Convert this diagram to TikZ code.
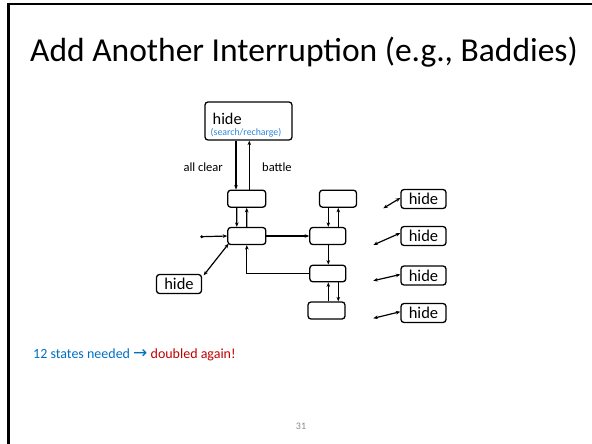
\documentclass[tikz,border=0pt]{standalone}
\usepackage{fontspec}
\setmainfont{Carlito}
\newfontfamily\symfont{DejaVu Sans}
\usetikzlibrary{arrows.meta,calc}
\definecolor{noteblue}{HTML}{0070C0}
\definecolor{notered}{HTML}{C00000}
\definecolor{subblue}{HTML}{2E86DE}
\definecolor{pagegray}{HTML}{8C8C8C}
\begin{document}
\begin{tikzpicture}[x=1pt,y=-1pt,
  box/.style={draw=black,line width=1.3pt,rounded corners=3pt,inner sep=0pt},
  statebox/.style={box,minimum width=37pt,minimum height=17pt},
  hidebox/.style={box,minimum width=45pt,minimum height=19pt,font=\fontsize{16.5}{16.5}\selectfont},
  arr/.style={line width=1.2pt,-{Stealth[length=4.5pt,width=3.6pt]}},
  darr/.style={line width=1.2pt,{Stealth[length=4.5pt,width=3.6pt]}-{Stealth[length=4.5pt,width=3.6pt]}},
  lbl/.style={font=\fontsize{12.5}{13}\selectfont,inner sep=0pt},
  slideedge/.style={fill=black}]
\useasboundingbox (0,0) rectangle (592,444);
\fill[white] (0,0) rectangle (592,444);
% slide frame: left and top edges as filled strips
\fill[slideedge] (7.1,3.2) rectangle (9.5,444);
\fill[slideedge] (7.1,3.2) rectangle (592,5.4);
% title
\node[anchor=base west,inner sep=0pt,font=\fontsize{33.5}{35}\selectfont] (title) at (30,61.5) {Add Another Interruption (e.g., Baddies)};

% top state
\node[box,minimum width=87pt,minimum height=38pt] (top) at (248.5,121) {};
\node[anchor=base west,inner sep=0pt,font=\fontsize{16.3}{16}\selectfont] (toptext) at (212.5,124.5) {hide};
\node[anchor=base,inner sep=0pt,font=\fontsize{9.8}{10}\selectfont,text=subblue] (topsub) at (246,135.5) {(search/recharge)};

% left column
\node[statebox,minimum width=38pt] (s1) at (246.7,198.7) {};
\node[statebox,minimum width=38pt] (s2) at (246.8,236) {};
% right column
\node[statebox] (a) at (338,198.7) {};
\node[statebox,minimum width=36pt] (b) at (327.8,236) {};
\node[statebox,minimum width=36pt,minimum height=16.5pt] (c) at (327.8,273.5) {};
\node[statebox] (d) at (326.5,310.5) {};

% hide states
\node[hidebox] (h0) at (179,284) {hide};
\node[hidebox] (h1) at (423.5,199) {hide};
\node[hidebox] (h2) at (423.5,236) {hide};
\node[hidebox] (h3) at (423.5,275.5) {hide};
\node[hidebox] (h4) at (423.5,313) {hide};

% top <-> first state
\draw[arr] ([xshift=-10.7pt]s1.north |- top.south) -- ([xshift=-10.7pt]s1.north);
\draw[arr] ([xshift=2.6pt]s1.north) -- ([xshift=2.6pt]s1.north |- top.south);
\node[lbl,anchor=base east] (allclear) at (223,171) {all clear};
\node[lbl,anchor=base west] (battle) at (262,171) {battle};

% s1 <-> s2
\draw[arr] ([xshift=-10pt]s1.south) -- ([xshift=-10pt]s2.north);
\draw[arr] (s2.north) -- (s1.south);

% entry
\coordinate (entry) at (201.7,236.7);
\fill (entry) circle (1.6pt);
\draw[arr] (entry) -- (s2.west);

% s2 <-> lower-left hide
\draw[darr] ([shift={(1.5pt,-1.5pt)}]h0.north east) -- ([shift={(1.5pt,1.5pt)}]s2.south west);

% s2 -> b, c -> s2
\draw[arr] (s2.east) -- (b.west);
\draw[arr] (c.west) -| (s2.south);

% a <-> b
\draw[arr] ([xshift=-9.7pt]a.south) -- ([xshift=-9.7pt]a.south |- b.north);
\draw[arr] ([xshift=0.3pt]a.south |- b.north) -- ([xshift=0.3pt]a.south);
% b -> c
\draw[arr] ([xshift=0.5pt]b.south) -- ([xshift=0.5pt]c.north);
% c <-> d
\draw[arr] ([xshift=0.5pt]c.south |- d.north) -- ([xshift=0.5pt]c.south);
\draw[arr] ([xshift=10.5pt]c.south) -- ([xshift=10.5pt]c.south |- d.north);

% loose links to the right-hand hide states
\coordinate (l1) at (383.3,208.3);
\coordinate (l2) at (373.3,245);
\coordinate (l3) at (373.3,280.7);
\coordinate (l4) at (373.3,318.3);
\draw[darr] (l1) -- ([yshift=1pt]h1.west);
\draw[darr] (l2) -- ([yshift=3pt]h2.west);
\draw[darr] (l3) -- ([yshift=1pt]h3.west);
\draw[darr] (l4) -- ([yshift=1.3pt]h4.west);

% note
\node[anchor=base west,inner sep=0pt,font=\fontsize{14}{15}\selectfont] (note) at (33,358)
  {\textcolor{noteblue}{12 states needed {\symfont\fontsize{17}{17}\selectfont →}} \textcolor{notered}{doubled again!}};

% page number
\node[inner sep=0pt,font=\fontsize{10}{10}\selectfont,text=pagegray] (page) at (301,426.5) {31};
\end{tikzpicture}
\end{document}
